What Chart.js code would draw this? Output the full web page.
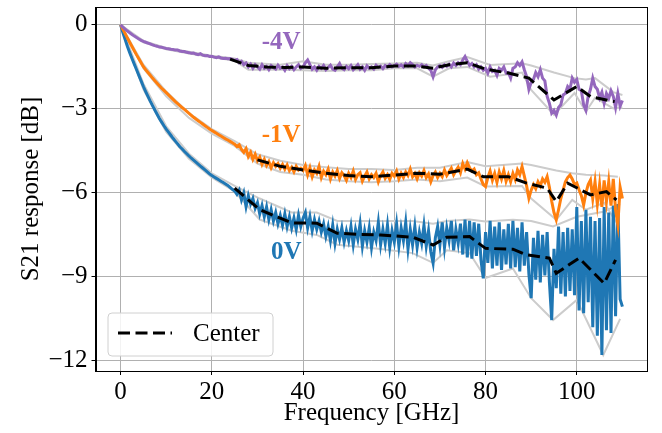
<!DOCTYPE html>
<html lang="en">
<head>
    <meta charset="UTF-8">
    <title>S21 response vs frequency</title>
    <script src="https://cdn.jsdelivr.net/npm/chart.js@4.4.0/dist/chart.umd.min.js"></script>
    <style>
        body { margin: 0; background: #ffffff; }
        #wrap { width: 662px; height: 433px; }
    </style>
</head>
<body>
<div id="wrap"><canvas id="s21Chart" width="662" height="433"></canvas></div>
<script>
// ---- data ----
// measured traces are sampled every 0.5 GHz from 0 to 110 GHz
const freqGHz = Array.from({ length: 221 }, (_, i) => i * 0.5);

const trace_m4V = [
    0, -0.08, -0.15, -0.22, -0.28, -0.34, -0.40, -0.45, -0.50, -0.55, -0.59, -0.62, -0.65, -0.68, -0.71, -0.74, -0.76, -0.79, -0.80, -0.82,
    -0.84, -0.85, -0.87, -0.88, -0.90, -0.90, -0.93, -0.95, -0.95, -0.98, -0.99, -1.01, -1.00, -1.04, -1.06, -1.03, -1.08, -1.10, -1.09, -1.13,
    -1.12, -1.15, -1.17, -1.14, -1.18, -1.20, -1.19, -1.21, -1.20, -1.23, -1.27, -1.24, -1.35, -1.30, -1.42, -1.36, -1.50, -1.40, -1.55, -1.42,
    -1.50, -1.58, -1.42, -1.55, -1.48, -1.60, -1.45, -1.52, -1.58, -1.44, -1.55, -1.50, -1.62, -1.45, -1.56, -1.48, -1.60, -1.50, -1.42, -1.55,
    -1.50, -1.35, -1.25, -1.42, -1.58, -1.50, -1.62, -1.48, -1.55, -1.45, -1.60, -1.52, -1.44, -1.58, -1.62, -1.50, -1.38, -1.55, -1.60, -1.48,
    -1.56, -1.45, -1.60, -1.52, -1.42, -1.58, -1.50, -1.62, -1.46, -1.55, -1.50, -1.58, -1.44, -1.52, -1.47, -1.56, -1.45, -1.50, -1.42, -1.50,
    -1.45, -1.40, -1.48, -1.43, -1.50, -1.38, -1.46, -1.35, -1.42, -1.50, -1.44, -1.48, -1.42, -1.50, -1.45, -1.55, -1.62, -1.85, -1.60, -1.50,
    -1.45, -1.52, -1.42, -1.48, -1.40, -1.50, -1.36, -1.45, -1.35, -1.42, -1.25, -1.13, -1.30, -1.45, -1.38, -1.50, -1.42, -1.58, -1.50, -1.62,
    -1.55, -1.72, -1.50, -1.66, -1.62, -1.80, -1.55, -1.62, -1.50, -1.72, -1.70, -1.90, -1.55, -1.50, -1.35, -1.45, -1.32, -1.60, -1.85, -2.30,
    -2.05, -1.95, -1.70, -1.85, -1.60, -1.90, -2.00, -2.55, -2.80, -3.15, -3.05, -3.22, -2.95, -2.85, -2.50, -2.45, -2.20, -2.30, -1.90, -2.05,
    -1.95, -2.30, -2.35, -2.85, -3.05, -2.55, -2.30, -1.90, -2.20, -2.30, -2.60, -2.40, -2.80, -2.45, -2.62, -2.35, -2.55, -2.95, -2.45, -2.90,
    -2.70
];

const trace_m1V = [
    0, -0.16, -0.31, -0.47, -0.62, -0.77, -0.92, -1.07, -1.21, -1.35, -1.49, -1.60, -1.70, -1.80, -1.90, -1.99, -2.08, -2.17, -2.26, -2.34,
    -2.42, -2.50, -2.58, -2.66, -2.74, -2.81, -2.88, -2.95, -3.02, -3.09, -3.16, -3.23, -3.30, -3.36, -3.42, -3.48, -3.54, -3.60, -3.66, -3.72,
    -3.77, -3.82, -3.87, -3.92, -3.97, -4.02, -4.07, -4.11, -4.16, -4.21, -4.26, -4.34, -4.28, -4.45, -4.55, -4.42, -4.70, -4.55, -4.80, -4.62,
    -4.85, -4.72, -4.98, -4.80, -5.02, -4.88, -5.10, -4.92, -5.05, -4.95, -5.12, -4.98, -5.15, -5.00, -5.20, -5.08, -5.25, -5.05, -5.18, -5.12,
    -5.20, -5.02, -5.35, -5.10, -5.42, -5.18, -5.30, -5.05, -5.45, -5.22, -5.35, -5.15, -5.50, -5.25, -5.40, -5.20, -5.48, -5.28, -5.38, -5.55,
    -5.30, -5.45, -5.22, -5.52, -5.35, -5.28, -5.58, -5.40, -5.25, -5.50, -5.35, -5.45, -5.30, -5.60, -5.38, -5.25, -5.48, -5.35, -5.52, -5.30,
    -5.40, -5.22, -5.50, -5.30, -5.45, -5.25, -5.38, -5.15, -5.42, -5.30, -5.50, -5.28, -5.40, -5.20, -5.45, -5.32, -5.60, -5.38, -5.25, -5.45,
    -5.30, -5.42, -5.18, -5.38, -5.25, -5.12, -5.35, -5.20, -5.08, -5.28, -4.95, -5.15, -4.92, -5.10, -5.22, -5.15, -5.35, -5.28, -5.50, -5.70,
    -5.77, -5.45, -5.22, -5.55, -5.30, -5.62, -5.25, -5.50, -5.20, -5.58, -5.35, -5.60, -5.30, -5.52, -5.18, -5.35, -5.06, -5.40, -5.75, -6.19,
    -5.90, -5.70, -5.85, -5.60, -5.75, -5.50, -5.62, -5.42, -5.80, -6.30, -6.70, -6.96, -6.60, -6.20, -5.90, -5.60, -5.45, -5.36, -5.50, -5.70,
    -5.65, -5.89, -6.10, -6.43, -6.00, -5.70, -5.54, -6.20, -5.60, -6.40, -5.70, -6.50, -5.55, -6.30, -5.60, -6.45, -5.50, -6.60, -7.14, -5.80,
    -6.20
];

const trace_0V = [
    0, -0.27, -0.52, -0.77, -0.99, -1.20, -1.40, -1.60, -1.80, -2.00, -2.20, -2.38, -2.55, -2.72, -2.88, -3.04, -3.19, -3.34, -3.47, -3.60,
    -3.72, -3.83, -3.94, -4.05, -4.15, -4.25, -4.35, -4.43, -4.52, -4.60, -4.68, -4.76, -4.83, -4.90, -4.97, -5.04, -5.11, -5.18, -5.25, -5.32,
    -5.38, -5.43, -5.48, -5.53, -5.58, -5.63, -5.68, -5.73, -5.80, -5.87, -5.93, -6.05, -5.90, -6.25, -6.00, -6.49, -6.10, -6.40, -6.20, -6.55,
    -6.35, -6.75, -6.45, -6.85, -6.50, -6.95, -6.60, -7.00, -6.70, -7.10, -6.80, -7.15, -6.75, -7.20, -6.85, -7.25, -6.90, -7.30, -6.80, -7.20,
    -6.90, -6.70, -7.25, -6.85, -7.35, -6.95, -7.30, -7.00, -7.40, -7.10, -7.55, -7.20, -7.70, -7.15, -7.80, -7.30, -7.65, -7.25, -7.75, -7.35,
    -7.70, -7.20, -7.85, -7.30, -7.65, -7.10, -7.90, -7.35, -7.75, -7.25, -7.95, -7.40, -7.70, -7.05, -7.85, -7.30, -7.80, -7.15, -7.95, -7.35,
    -7.75, -7.10, -7.90, -7.25, -7.70, -7.05, -8.00, -7.30, -7.85, -7.20, -7.95, -7.40, -7.80, -7.15, -7.90, -7.35, -8.10, -8.50, -7.60, -7.20,
    -7.85, -7.05, -7.95, -7.25, -7.70, -7.00, -8.05, -7.30, -7.80, -7.10, -8.20, -6.95, -8.30, -7.00, -8.35, -7.05, -8.25, -7.10, -8.40, -9.05,
    -7.40, -8.50, -7.00, -8.70, -7.20, -8.60, -7.05, -8.75, -7.30, -8.55, -7.10, -8.70, -7.00, -8.65, -7.25, -8.80, -7.05, -8.60, -7.40, -8.90,
    -9.76, -7.60, -9.10, -7.35, -9.20, -7.50, -8.95, -7.40, -9.20, -10.54, -8.00, -9.40, -7.20, -9.60, -7.40, -9.70, -7.25, -9.50, -7.30, -9.65,
    -6.50, -10.20, -7.00, -10.30, -6.60, -9.90, -6.85, -10.80, -7.00, -11.10, -6.90, -11.79, -6.50, -10.90, -6.70, -11.00, -6.45, -10.40, -6.40, -9.80,
    -10.06
];

// grey envelopes (upper / lower) around each trace
const envFreq_m4V = [0, 5, 10, 15, 20, 25, 28, 35, 40, 45, 50, 55, 60, 65, 68.5, 72, 76, 81, 88, 90, 95, 99.5, 102, 104, 108, 110];
const envHigh_m4V = [0, -0.57, -0.82, -0.96, -1.10, -1.20, -1.35, -1.42, -1.30, -1.42, -1.42, -1.40, -1.38, -1.35, -1.45, -1.30, -1.15, -1.43, -1.37, -1.45, -1.70, -1.90, -1.95, -1.90, -2.40, -2.50];
const envLow_m4V = [0, -0.62, -0.87, -1.02, -1.15, -1.28, -1.60, -1.60, -1.62, -1.65, -1.62, -1.62, -1.55, -1.55, -1.85, -1.55, -1.50, -1.85, -1.70, -2.32, -3.21, -2.43, -3.10, -2.60, -2.98, -2.95];

const envFreq_m1V = [0, 5, 10, 15, 20, 25, 30, 35, 40, 45, 50, 55, 60, 65, 70, 76, 80, 88, 90, 95.5, 99, 102, 106, 109];
const envHigh_m1V = [0, -1.42, -2.38, -3.15, -3.72, -4.15, -4.62, -4.85, -5.00, -5.08, -5.15, -5.15, -5.18, -5.10, -5.10, -4.90, -5.05, -4.95, -5.00, -5.20, -5.30, -5.35, -5.38, -5.42];
const envLow_m1V = [0, -1.55, -2.55, -3.32, -3.88, -4.32, -4.95, -5.25, -5.35, -5.52, -5.58, -5.62, -5.58, -5.52, -5.58, -5.45, -5.77, -5.75, -6.20, -6.96, -6.25, -6.60, -6.35, -7.14];

const envFreq_0V = [0, 5, 10, 15, 20, 25, 30.5, 37.5, 43, 47.5, 57, 64, 68.5, 71.5, 76.5, 80, 86, 90, 94.8, 100, 105.8, 109.5];
const envHigh_0V = [0, -2.10, -3.62, -4.60, -5.30, -5.75, -6.20, -6.70, -6.70, -7.00, -7.00, -7.00, -7.10, -7.00, -6.95, -7.02, -6.96, -7.00, -7.20, -6.85, -6.67, -6.40];
const envLow_0V = [0, -2.30, -3.82, -4.78, -5.45, -5.95, -6.95, -7.35, -7.50, -7.85, -8.00, -8.15, -8.50, -8.05, -8.15, -9.04, -8.70, -9.76, -10.54, -9.82, -11.79, -10.50];

// dashed "Center" lines
const centerFreq_m4V = [24, 28, 32, 36, 40, 45, 50, 55, 60, 65, 68.5, 72, 76, 80, 85, 89.5, 95, 100, 103, 108.3];
const center_m4V = [-1.22, -1.45, -1.50, -1.52, -1.50, -1.55, -1.53, -1.53, -1.47, -1.47, -1.55, -1.42, -1.35, -1.58, -1.72, -1.90, -2.68, -2.20, -2.56, -2.74];

const centerFreq_m1V = [30, 35, 40, 45, 50, 55, 60, 65, 70, 76, 79.5, 85, 89, 93.5, 95.5, 98, 103, 106.5, 108.7];
const center_m1V = [-4.82, -5.05, -5.18, -5.30, -5.38, -5.42, -5.36, -5.30, -5.33, -5.15, -5.42, -5.42, -5.65, -5.83, -6.31, -5.65, -6.07, -5.95, -6.25];

const centerFreq_0V = [25, 30.5, 37.5, 43, 47.5, 52, 57, 64, 68.5, 71.5, 76.5, 80, 86, 89, 94, 95.5, 100.5, 106, 108.5];
const center_0V = [-5.83, -6.60, -7.07, -7.08, -7.44, -7.48, -7.50, -7.58, -7.86, -7.58, -7.56, -7.98, -8.01, -8.21, -8.33, -8.87, -8.33, -9.23, -8.39];

const xTicks = [0, 20, 40, 60, 80, 100];
const yTicks = [-12, -9, -6, -3, 0];
const yTickLabels = ['\u221212', '\u22129', '\u22126', '\u22123', '0'];

// ---- styling ----
const SERIF = "'Liberation Serif', 'Times New Roman', serif";
const PURPLE = '#9467bd';
const ORANGE = '#ff7f0e';
const BLUE = '#1f77b4';
const GREY = '#cccccc';

Chart.defaults.font.family = SERIF;
Chart.defaults.color = '#000';

const pts = (xs, ys) => xs.map((x, i) => ({ x: x, y: ys[i] }));

const traceSet = (color, ys) => ({
    data: pts(freqGHz, ys), borderColor: color, borderWidth: 3,
    pointRadius: 0, tension: 0, order: 1
});
const envSet = (xs, ys) => ({
    data: pts(xs, ys), borderColor: GREY, borderWidth: 2,
    pointRadius: 0, tension: 0, order: 2
});
const centerSet = (xs, ys) => ({
    label: 'Center', data: pts(xs, ys), borderColor: '#000', borderWidth: 3,
    borderDash: [12, 5.5], pointRadius: 0, tension: 0, order: 0
});

// voltage labels placed in data coordinates
const voltageNotes = [
    { text: '-4V', color: PURPLE, x: 35.2, y: -0.63 },
    { text: '-1V', color: ORANGE, x: 35.2, y: -3.96 },
    { text: '0V', color: BLUE, x: 36.3, y: -8.13 }
];

const extrasPlugin = {
    id: 'extras',
    afterDatasetsDraw(chart) {
        const { ctx, scales: { x, y } } = chart;
        ctx.save();
        ctx.font = 'bold 25px ' + SERIF;
        ctx.textAlign = 'center';
        ctx.textBaseline = 'middle';
        voltageNotes.forEach(n => {
            ctx.fillStyle = n.color;
            ctx.fillText(n.text, x.getPixelForValue(n.x), y.getPixelForValue(n.y));
        });
        ctx.restore();
    },
    afterDraw(chart) {
        const { ctx, chartArea: a } = chart;
        ctx.save();
        // axes frame
        ctx.strokeStyle = '#000';
        ctx.lineWidth = 1;
        ctx.strokeRect(Math.round(a.left) + 0.5, Math.round(a.top) + 0.5,
            Math.round(a.right - a.left) - 1, Math.round(a.bottom - a.top));

        // legend (lower left)
        const bx = a.left + 12.5, by = a.bottom - 58, bw = 165, bh = 43;
        ctx.fillStyle = 'rgba(255,255,255,0.85)';
        ctx.strokeStyle = '#d0d0d0';
        ctx.lineWidth = 1;
        ctx.beginPath();
        ctx.roundRect(bx, by, bw, bh, 4);
        ctx.fill();
        ctx.stroke();
        const ds = chart.data.datasets.find(d => d.label === 'Center');
        ctx.strokeStyle = ds.borderColor;
        ctx.lineWidth = ds.borderWidth;
        ctx.setLineDash(ds.borderDash);
        ctx.beginPath();
        ctx.moveTo(bx + 10, by + 20);
        ctx.lineTo(bx + 64, by + 20);
        ctx.stroke();
        ctx.setLineDash([]);
        ctx.fillStyle = '#000';
        ctx.font = '25px ' + SERIF;
        ctx.textAlign = 'left';
        ctx.textBaseline = 'middle';
        ctx.fillText(ds.label, bx + 85, by + 21);
        ctx.restore();
    }
};

const ctx = document.getElementById('s21Chart').getContext('2d');
const s21Chart = new Chart(ctx, {
    type: 'line',
    data: {
        datasets: [
            centerSet(centerFreq_m4V, center_m4V),
            centerSet(centerFreq_m1V, center_m1V),
            centerSet(centerFreq_0V, center_0V),
            traceSet(PURPLE, trace_m4V),
            traceSet(ORANGE, trace_m1V),
            traceSet(BLUE, trace_0V),
            envSet(envFreq_m4V, envHigh_m4V),
            envSet(envFreq_m4V, envLow_m4V),
            envSet(envFreq_m1V, envHigh_m1V),
            envSet(envFreq_m1V, envLow_m1V),
            envSet(envFreq_0V, envHigh_0V),
            envSet(envFreq_0V, envLow_0V)
        ]
    },
    options: {
        responsive: false,
        animation: false,
        layout: { padding: { top: 7, right: 14.5, left: 0, bottom: 0 } },
        plugins: {
            legend: { display: false },
            tooltip: { enabled: false }
        },
        scales: {
            x: {
                type: 'linear',
                min: -5.5,
                max: 115.5,
                afterBuildTicks: axis => { axis.ticks = xTicks.map(v => ({ value: v })); },
                afterFit: scale => {
                    scale.height = 62;
                    scale.paddingLeft = 0; scale.paddingRight = 0;
                },
                ticks: { font: { size: 25 }, padding: 2, maxRotation: 0, callback: v => String(v) },
                grid: { color: '#b0b0b0', lineWidth: 1, tickLength: 4, tickColor: '#000' },
                border: { color: '#000', width: 1 },
                title: { display: true, text: 'Frequency [GHz]', font: { size: 25 }, padding: { top: 0, bottom: 5 } }
            },
            y: {
                type: 'linear',
                min: -12.36,
                max: 0.64,
                afterBuildTicks: axis => { axis.ticks = yTicks.map(v => ({ value: v })); },
                afterFit: scale => {
                    scale.width = 95.5;
                    scale.paddingTop = 0; scale.paddingBottom = 0;
                },
                ticks: {
                    font: { size: 25 }, padding: 4,
                    callback: v => yTickLabels[yTicks.indexOf(v)]
                },
                grid: { color: '#b0b0b0', lineWidth: 1, tickLength: 4, tickColor: '#000' },
                border: { color: '#000', width: 1 },
                title: { display: true, text: 'S21 response [dB]', font: { size: 25 }, padding: { top: 16, bottom: 0 } }
            }
        }
    },
    plugins: [extrasPlugin]
});
</script>
</body>
</html>
